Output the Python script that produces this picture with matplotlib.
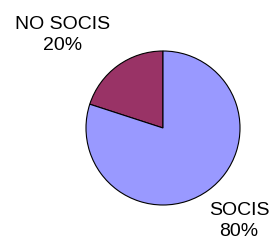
import matplotlib
matplotlib.use('Agg')
from matplotlib import pyplot as plt

categorias = ['NO SOCIS', 'SOCIS']
valores = [20, 80]
cores = ['#993366', '#9999FF']
etiquetas = ['NO SOCIS\n20%', 'SOCIS\n80%']

plt.rcParams['font.family'] = ['Liberation Sans', 'DejaVu Sans']

fig = plt.figure(figsize=(2.75, 2.42), dpi=100)
ax = fig.add_axes([0, 0, 1, 1])
ax.pie(valores, colors=cores, startangle=90, counterclock=True,
       wedgeprops={'edgecolor': 'black', 'linewidth': 0.8},
       center=(163, -128), radius=77)

# etiquetas fora do grafico
ax.text(63, -35, etiquetas[0], ha='center', va='center', fontsize=14, linespacing=1.35)
ax.text(239, -221, etiquetas[1], ha='center', va='center', fontsize=14, linespacing=1.35)

ax.set_xlim(0, 275)
ax.set_ylim(-242, 0)
ax.set_aspect('equal')
ax.axis('off')
fig.savefig('out.png', dpi=100)
